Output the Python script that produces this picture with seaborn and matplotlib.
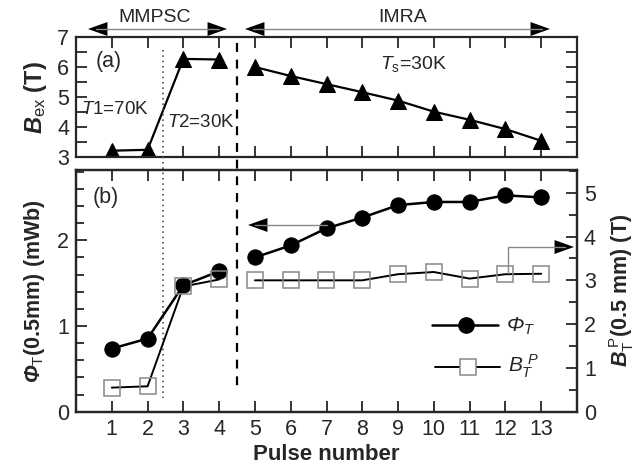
import numpy as np
import pandas as pd
import matplotlib
matplotlib.use("Agg")
import matplotlib.pyplot as plt
import seaborn as sns
from matplotlib.ticker import MultipleLocator
import matplotlib.transforms as mtransforms

# ---------------- data ----------------
pulse_a = [1, 2, 3, 4, 5, 6, 7, 8, 9, 10, 11, 12, 13]
bex = [3.21, 3.24, 6.27, 6.25, 6.0, 5.7, 5.43, 5.16, 4.88, 4.51, 4.24, 3.93, 3.54]
pulse_b = [1, 2, 3, 4, 5, 6, 7, 8, 9, 10, 11, 12, 13]
phi_t = [0.736, 0.853, 1.475, 1.638, 1.80, 1.94, 2.14, 2.265, 2.41, 2.447, 2.447, 2.525, 2.50]
btp = [0.55, 0.58, 2.86, 3.02, 3.0, 3.0, 3.0, 3.0, 3.14, 3.19, 3.04, 3.14, 3.15]
x_ticks = list(range(1, 14))

sns.set_style("ticks")
plt.rcParams['font.family'] = ['Liberation Sans', 'DejaVu Sans']
plt.rcParams['mathtext.fontset'] = 'custom'
plt.rcParams['mathtext.rm'] = 'Liberation Sans'
plt.rcParams['mathtext.it'] = 'Liberation Sans:italic'
plt.rcParams['mathtext.bf'] = 'Liberation Sans:italic:bold'
plt.rcParams['mathtext.cal'] = 'Liberation Sans:italic:bold'
plt.rcParams['mathtext.sf'] = 'Liberation Sans:italic'

FS = 15.5
fig = plt.figure(figsize=(6.38, 4.66), dpi=100)
W, H = 638, 466
def rect(x0, y0, x1, y1):
    return [x0 / W, 1 - y1 / H, (x1 - x0) / W, (y1 - y0) / H]

ax1 = fig.add_axes(rect(76, 37, 577, 157))
ax2 = fig.add_axes(rect(76, 170, 577, 411.7))
ax3 = ax2.twinx()

df_a = pd.DataFrame({"pulse": pulse_a, "bex": bex})
df_b = pd.DataFrame({"pulse": pulse_b, "phi": phi_t, "btp": btp})

# top panel
for sub in (df_a[df_a.pulse <= 4], df_a[df_a.pulse >= 5]):
    sns.lineplot(data=sub, x="pulse", y="bex", ax=ax1, color="black", lw=1.6,
                 marker="^", markersize=11, markeredgecolor="black", markerfacecolor="black")

# bottom panel
for sub in (df_b[df_b.pulse <= 4], df_b[df_b.pulse >= 5]):
    sns.lineplot(data=sub, x="pulse", y="phi", ax=ax2, color="black", lw=1.8,
                 marker="o", markersize=11, markeredgecolor="black", markerfacecolor="black", zorder=4)
    sns.lineplot(data=sub, x="pulse", y="btp", ax=ax3, color="black", lw=1.4,
                 marker="s", markersize=11, markeredgecolor="#888888", markerfacecolor="none",
                 markeredgewidth=1.1)

for ax in (ax1, ax2):
    ax.set_xlim(0, 14)
    ax.set_xticks(x_ticks)
ax1.set_ylim(3, 7)
ax2.set_ylim(0, 2.82)
ax3.set_ylim(0, 5.52)

ax1.yaxis.set_major_locator(MultipleLocator(1))
ax1.yaxis.set_minor_locator(MultipleLocator(0.5))
ax2.yaxis.set_major_locator(MultipleLocator(1))
ax2.yaxis.set_minor_locator(MultipleLocator(0.2))
ax3.yaxis.set_major_locator(MultipleLocator(1))
ax3.yaxis.set_minor_locator(MultipleLocator(0.5))

ax1.tick_params(axis='both', which='both', direction='in', top=True, right=True,
                labelbottom=False, labelsize=FS, width=1.3, pad=5)
ax1.tick_params(which='major', length=8)
ax1.tick_params(which='minor', length=8)
ax2.tick_params(axis='both', which='both', direction='in', top=True, right=False,
                labelsize=FS, width=1.3, pad=5)
ax2.tick_params(which='major', length=8)
ax2.tick_params(which='minor', length=6)
ax3.tick_params(axis='y', which='both', direction='in', labelsize=FS, width=1.3, pad=5)
ax3.tick_params(which='major', length=8)
ax3.tick_params(which='minor', length=6)

for ax in (ax1, ax2, ax3):
    for s in ax.spines.values():
        s.set_linewidth(1.6)
    ax.grid(False)

ax1.set_xlabel("")
ax1.set_ylabel(r"$\mathbf{B}_{\rm ex}$ (T)", fontsize=17, fontweight='bold', labelpad=6)
ax2.set_xlabel("Pulse number", fontsize=16, fontweight='bold', labelpad=3)
ax2.set_ylabel(r"$\mathcal{Φ}_{\rm T}$(0.5mm) (mWb)", fontsize=15.5, fontweight='bold', labelpad=7)
ax3.set_ylabel(r"$\mathbf{B}_{\rm T}^{\ \rm P}$(0.5 mm) (T)", fontsize=15.5, fontweight='bold', labelpad=8)

def xd(px):
    return (px - 76) / (577 - 76) * 14
ax1.text(xd(96), 6.2, "(a)", fontsize=FS, va='center', ha='left')
ax1.text(xd(81), 4.6, r"$\mathit{T1}$=70K", fontsize=13.5, va='center', ha='left')
ax1.text(xd(167), 4.15, r"$\mathit{T2}$=30K", fontsize=13.5, va='center', ha='left')
ax1.text(xd(380), 6.1, r"$\mathit{T}_{\rm s}$=30K", fontsize=14, va='center', ha='left')
ax2.text(xd(93), 2.5, "(b)", fontsize=FS, va='center', ha='left')

# vertical separators spanning both panels
trans = mtransforms.blended_transform_factory(ax2.transData, ax2.transAxes)
def yf(py):
    return (411.7 - py) / (411.7 - 170)
ax2.plot([2.44, 2.44], [yf(50), yf(398)], transform=trans, ls=(0, (1, 2.2)),
         color="#555555", lw=1.2, clip_on=False)
ax2.plot([4.5, 4.5], [yf(43), yf(390)], transform=trans, ls=(0, (4, 3.5)),
         color="black", lw=1.6, clip_on=False)

def fx(px):
    return px / W
def fy(py):
    return 1 - py / H
def head(xs, xe, y):
    fig.add_artist(matplotlib.patches.FancyArrowPatch((fx(xs), fy(y)), (fx(xe), fy(y)),
                   transform=fig.transFigure, arrowstyle="-|>,head_length=14,head_width=5",
                   mutation_scale=1, color="black", lw=0, shrinkA=0, shrinkB=0))

for (x0, x1) in [(88, 227), (245, 550)]:
    fig.add_artist(plt.Line2D([fx(x0 + 8), fx(x1 - 8)], [fy(29), fy(29)], color="#888888", lw=1.0))
for (xs, xe) in [(110, 88), (205, 227), (265, 245), (530, 550)]:
    head(xs, xe, 29)
fig.text(fx(155), fy(17), "MMPSC", fontsize=14, ha='center', va='center')
fig.text(fx(403), fy(17), "IMRA", fontsize=14, ha='center', va='center')

# bottom panel arrows
fig.add_artist(plt.Line2D([fx(255), fx(327)], [fy(225), fy(225)], color="#888888", lw=1.0))
head(270, 248, 225)
fig.add_artist(plt.Line2D([fx(508.3), fx(508.3), fx(565)], [fy(273), fy(247), fy(247)],
                          color="#888888", lw=1.0))
head(552, 574, 247)

# legend drawn manually
fig.add_artist(plt.Line2D([fx(432), fx(498)], [fy(325), fy(325)], color="black", lw=1.8))
fig.add_artist(plt.Line2D([fx(466)], [fy(325)], marker="o", markersize=11, color="black"))
fig.text(fx(506), fy(326), r"$\mathsf{Φ}_{\mathit{T}}$", fontsize=15, ha='left', va='center')
fig.add_artist(plt.Line2D([fx(435), fx(500)], [fy(367), fy(367)], color="black", lw=1.4))
fig.add_artist(plt.Line2D([fx(468)], [fy(367)], marker="s", markersize=11,
                          markerfacecolor="white", markeredgecolor="#888888", markeredgewidth=1.1,
                          color="black"))
fig.text(fx(508), fy(366), r"$\mathit{B}_{\mathit{T}}^{\ \mathit{P}}$", fontsize=15, ha='left', va='center')

fig.savefig("out.png", dpi=100)
